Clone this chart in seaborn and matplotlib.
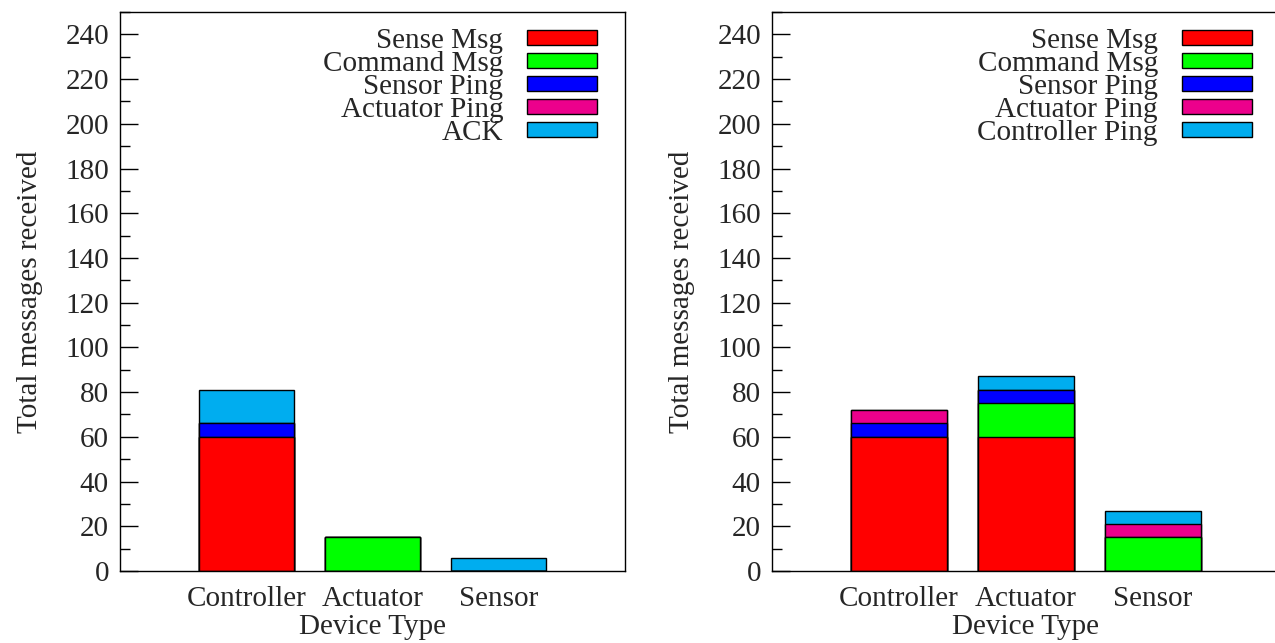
import matplotlib
matplotlib.use("Agg")
import matplotlib.pyplot as plt
import seaborn as sns
import numpy as np
import pandas as pd
from matplotlib.patches import Patch
from matplotlib.ticker import MultipleLocator

# ---- data ----
devices = ["Controller", "Actuator", "Sensor"]

left_labels = ["Sense Msg", "Command Msg", "Sensor Ping", "Actuator Ping", "ACK"]
left_sense = [60, 0, 0]
left_command = [0, 15, 0]
left_sensor_ping = [6, 0, 0]
left_actuator_ping = [0, 0, 0]
left_ack = [15, 0, 6]

right_labels = ["Sense Msg", "Command Msg", "Sensor Ping", "Actuator Ping", "Controller Ping"]
right_sense = [60, 60, 0]
right_command = [0, 15, 15]
right_sensor_ping = [6, 6, 0]
right_actuator_ping = [6, 0, 6]
right_controller_ping = [0, 6, 6]

colors = ["#FF0000", "#00FF00", "#0000FF", "#EC008C", "#00ADEF"]

sns.set_theme(style="white")
plt.rcParams["font.family"] = ["Liberation Serif", "DejaVu Serif"]
FS = 21

fig = plt.figure(figsize=(12.75, 6.43), dpi=100)
ax1 = fig.add_axes([120 / 1275, 72 / 643, 505 / 1275, 559 / 643])
ax2 = fig.add_axes([772 / 1275, 72 / 643, 508 / 1275, 559 / 643])


def draw(ax, series, labels):
    arr = np.array(series, dtype=float)
    cum = np.cumsum(arr, axis=0)
    for i in range(len(series) - 1, -1, -1):
        df = pd.DataFrame({"device": devices, "value": cum[i]})
        sns.barplot(data=df, x="device", y="value", order=devices, color=colors[i],
                    saturation=1, width=0.75, edgecolor="black", linewidth=1.0,
                    ax=ax, errorbar=None)
    ax.set_xlim(-1, 3)
    ax.set_ylim(0, 250)
    ax.yaxis.set_major_locator(MultipleLocator(20))
    ax.yaxis.set_minor_locator(MultipleLocator(10))
    ax.tick_params(axis="y", which="major", direction="in", length=13, width=1,
                   left=True, labelsize=FS, pad=8, color="black")
    ax.tick_params(axis="y", which="minor", direction="in", length=7, width=1,
                   left=True, color="black")
    ax.tick_params(axis="x", length=0, labelsize=FS, pad=11)
    for s in ax.spines.values():
        s.set_color("black")
        s.set_linewidth(1.0)
    ax.set_xlabel("Device Type", fontsize=FS, labelpad=1)
    ax.set_ylabel("Total messages received", fontsize=FS, labelpad=16)
    handles = [Patch(facecolor=c, edgecolor="black", linewidth=1.0) for c in colors]
    ax.legend(handles, labels, loc="upper right", bbox_to_anchor=(0.945, 0.972),
              frameon=False, markerfirst=False, fontsize=FS, handlelength=2.4,
              handleheight=0.41, labelspacing=-0.1, handletextpad=0.83,
              borderaxespad=0, borderpad=0)


draw(ax1, [left_sense, left_command, left_sensor_ping, left_actuator_ping, left_ack], left_labels)
draw(ax2, [right_sense, right_command, right_sensor_ping, right_actuator_ping, right_controller_ping], right_labels)

fig.savefig("out.png", dpi=100)
